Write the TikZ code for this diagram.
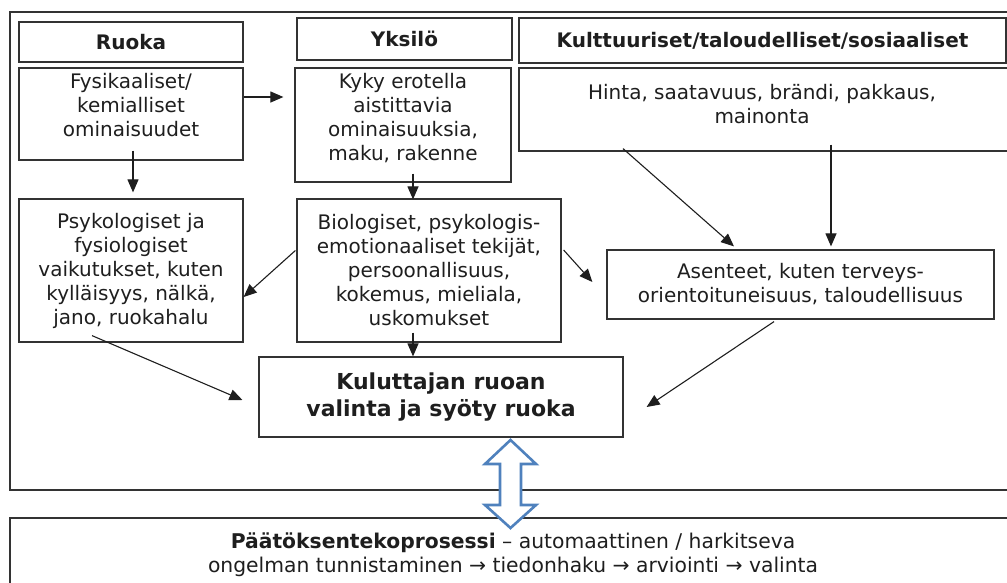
\documentclass[tikz,border=0pt]{standalone}
\usepackage{fontspec}
\setmainfont{DejaVu Sans}
\usetikzlibrary{arrows.meta,calc}
\definecolor{ink}{HTML}{1E1E1E}
\definecolor{rulegray}{HTML}{333333}
\definecolor{arrowblue}{HTML}{4F81BD}
\tikzset{
  box/.style={draw=rulegray, line width=1.2pt, inner sep=0pt, text=ink},
  body/.style={font=\fontsize{20}{24}\selectfont, align=center, inner sep=0pt, text=ink},
  head/.style={font=\bfseries\fontsize{20}{24}\selectfont},
  arr/.style={draw=ink, line width=1.1pt, -{Triangle[length=13pt,width=11pt]}},
  frame/.style={draw=rulegray, line width=1.4pt},
  dblarrow/.style={draw=arrowblue, line width=2.6pt, fill=white, line join=miter},
}
\begin{document}
\begin{tikzpicture}[x=1pt,y=-1pt]
\useasboundingbox (0,0) rectangle (1007,582);

% outer frame of the influence factors and the decision-process frame
\draw[frame] (10,12) rectangle (1020,490);
\draw[frame] (10,518) rectangle (1020,600);

% column headers
\node[box, head, minimum width=224pt, minimum height=40pt] (ruoka) at (131,42) {Ruoka};
\node[box, head, minimum width=215pt, minimum height=42pt] (yks) at (404.5,39) {Yksilö};
\node[box, head, minimum width=487pt, minimum height=45pt] (kult) at (762.5,40.5) {Kulttuuriset/taloudelliset/sosiaaliset};

% first row (text set from the top of the box)
\node[box, minimum width=224pt, minimum height=92pt] (fys) at (131,114) {};
\node[body, anchor=north] (fystext) at (131,73) {Fysikaaliset/\\kemialliset\\ominaisuudet};
\node[box, minimum width=216pt, minimum height=114pt] (kyky) at (403,125) {};
\node[body, anchor=north] (kykytext) at (403,73) {Kyky erotella\\aistittavia\\ominaisuuksia,\\maku, rakenne};
\node[box, minimum width=493pt, minimum height=83pt] (hinta) at (765.5,109.5) {};
\node[body, anchor=north] (hintatext) at (762,84) {Hinta, saatavuus, brändi, pakkaus,\\mainonta};

% second row
\node[box, body, minimum width=224pt, minimum height=143pt] (psy) at (131,270.5)
  {Psykologiset ja\\fysiologiset\\vaikutukset, kuten\\kylläisyys, nälkä,\\jano, ruokahalu};
\node[box, body, minimum width=264pt, minimum height=143pt] (bio) at (429,270.5)
  {Biologiset, psykologis-\\emotionaaliset tekijät,\\persoonallisuus,\\kokemus, mieliala,\\uskomukset};
\node[box, body, minimum width=387pt, minimum height=69pt] (ase) at (800.5,284.5)
  {Asenteet, kuten terveys-\\orientoituneisuus, taloudellisuus};

% outcome
\node[box, align=center, font=\bfseries\fontsize{22}{27}\selectfont, minimum width=364pt, minimum height=80pt] (kul) at (441,397)
  {Kuluttajan ruoan\\valinta ja syöty ruoka};

% decision process
\node[body, anchor=north, font=\fontsize{20.3}{24}\selectfont] (paat) at (513,533)
  {\textbf{Päätöksentekoprosessi} – automaattinen / harkitseva\\ongelman tunnistaminen → tiedonhaku → arviointi → valinta};

% connectors
\draw[arr] ($(fys.east)+(0,-17)$) -- ($(kyky.west)+(-11,-28)$);
\draw[arr] ($(fys.south)+(2,-10)$) -- ($(psy.north)+(2,-6)$);
\draw[arr] ($(kyky.south)+(10,-9)$) -- ($(bio.north)+(-16,1)$);
\draw[arr] ($(bio.west)+(-1,-20)$) -- ($(psy.east)+(0,26.5)$);
\draw[arr] ($(psy.south)+(-39,-7)$) -- ($(kul.west)+(-16,3)$);
\draw[arr] ($(bio.south)+(-16,-10)$) -- ($(kul.north)+(-28,0)$);
\draw[arr] ($(bio.east)+(2,-20.5)$) -- ($(ase.west)+(-14,-2.5)$);
\draw[arr] ($(hinta.south)+(-142.5,-3)$) -- ($(ase.north)+(-66.5,-3)$);
\draw[arr] ($(hinta.south)+(65.5,-7)$) -- ($(ase.north)+(30.5,-3)$);
\draw[arr] ($(ase.south)+(-26.5,2)$) -- ($(kul.east)+(23,10)$);

% two-way block arrow between choice and decision process
\draw[dblarrow] (510.5,440) -- (536,464) -- (521,464) -- (521,505) -- (536,505)
  -- (510.5,528) -- (485,505) -- (500,505) -- (500,464) -- (485,464) -- cycle;
\end{tikzpicture}
\end{document}
